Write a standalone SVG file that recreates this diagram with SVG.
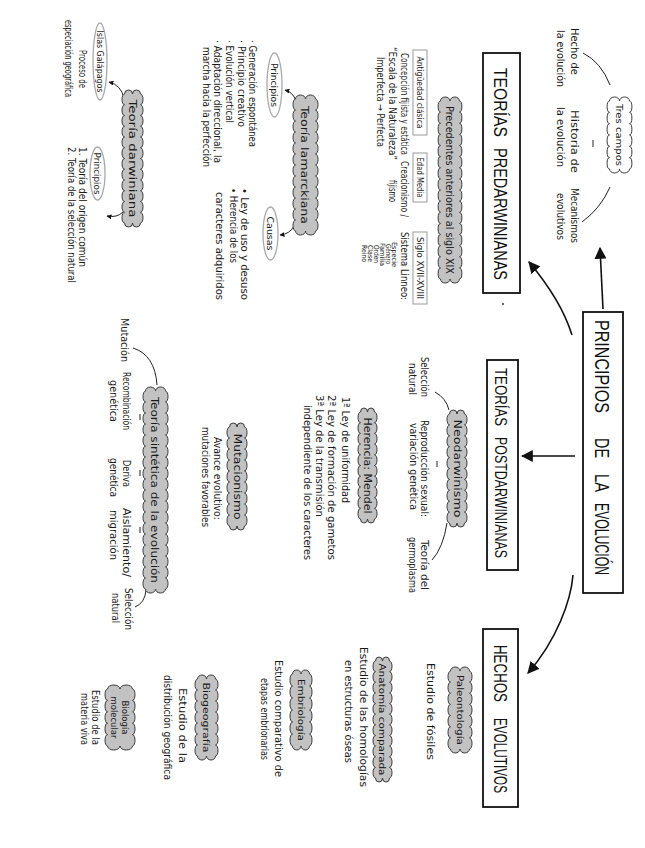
<svg xmlns="http://www.w3.org/2000/svg" width="645" height="848" viewBox="0 0 645 848">
<style>
.t{font-family:"Liberation Sans Narrow","DejaVu Sans Condensed","Liberation Sans",sans-serif;font-size:10px;fill:#1a1a1a}
.s{font-size:9px}
.xs{font-size:7px}
.ttl{font-family:"Liberation Sans","DejaVu Sans",sans-serif;fill:#111}
.m{text-anchor:middle}
.cloud{fill:#c2c2c2;stroke:#3a3a3a;stroke-width:1}
.wcloud{fill:#fff;stroke:#3a3a3a;stroke-width:1}
.box{fill:#fff;stroke:#111;stroke-width:1.8}
.sbox{fill:#fff;stroke:#999;stroke-width:1}
.ell{fill:#fff;stroke:#aaa;stroke-width:1.3}
.ln{fill:none;stroke:#222;stroke-width:1}
.ar{fill:none;stroke:#111;stroke-width:1.6}
</style>
<defs>
<marker id="big" viewBox="0 0 10 10" refX="9" refY="5" markerWidth="12" markerHeight="12" markerUnits="userSpaceOnUse" orient="auto"><path d="M0,0 L10,5 L0,10 z" fill="#111"/></marker>
<marker id="sm" viewBox="0 0 10 10" refX="9" refY="5" markerWidth="5" markerHeight="5" markerUnits="userSpaceOnUse" orient="auto"><path d="M0,0 L10,5 L0,10 z" fill="#111"/></marker>
</defs>
<rect width="645" height="848" fill="#fff"/>
<g transform="translate(645,0) rotate(90)">

<g id="connectors">
<path class="ar" d="M335,73 Q300,84 262,116" marker-end="url(#big)"/>
<path class="ar" d="M309,42 L248,45" marker-end="url(#big)"/>
<path class="ar" d="M456,70 L456,123" marker-end="url(#big)"/>
<path class="ar" d="M575,72 C600,74 640,88 673,117" marker-end="url(#big)"/>
<path class="ln" d="M85,35 Q62,44 53,62"/>
<path class="ln" d="M140,52 L147,52"/>
<path class="ln" d="M187,35 Q208,44 222,63"/>
<path class="ln" d="M101,349 Q92,352 90,360" marker-end="url(#sm)"/>
<path class="ln" d="M226,351 Q234,355 235,365" marker-end="url(#sm)"/>
<path class="ln" d="M98,521 Q85,524 82,536" marker-end="url(#sm)"/>
<path class="ln" d="M212,522 Q218,528 216,538" marker-end="url(#sm)"/>
<path class="ln" d="M410,196 Q398,199 392,210"/>
<path class="ln" d="M461,208 L467,208"/>
<path class="ln" d="M523,198 Q548,202 560,213"/>
<path class="ln" d="M385,488 Q355,490 348,512"/>
<path class="ln" d="M414,505 L420,505"/>
<path class="ln" d="M470,505 L476,505"/>
<path class="ln" d="M527,505 L533,505"/>
<path class="ln" d="M590,499 Q603,500 607,510"/>
</g>

<g id="principios">
<rect class="box" x="312" y="22" width="281" height="40"/>
<text class="ttl" font-size="21" x="320" y="50" textLength="93" lengthAdjust="spacingAndGlyphs">PRINCIPIOS</text>
<text class="ttl" font-size="21" x="438" y="50" textLength="20" lengthAdjust="spacingAndGlyphs">DE</text>
<text class="ttl" font-size="21" x="474" y="50" textLength="18" lengthAdjust="spacingAndGlyphs">LA</text>
<text class="ttl" font-size="21" x="503" y="50" textLength="72" lengthAdjust="spacingAndGlyphs">EVOLUCIÓN</text>
</g>

<g id="tres-campos">
<path class="wcloud" d="M101,15.5 a5.67,2.5 0 0 1 11.33,0 a5.67,2.5 0 0 1 11.33,0 a5.67,2.5 0 0 1 11.33,0 a5.67,2.5 0 0 1 11.33,0 a5.67,2.5 0 0 1 11.33,0 a5.67,2.5 0 0 1 11.33,0 a4,5 0 0 1 0,10 a4,5 0 0 1 0,10 a5.67,2.5 0 0 1 -11.33,0 a5.67,2.5 0 0 1 -11.33,0 a5.67,2.5 0 0 1 -11.33,0 a5.67,2.5 0 0 1 -11.33,0 a5.67,2.5 0 0 1 -11.33,0 a5.67,2.5 0 0 1 -11.33,0 a4,5 0 0 1 0,-10 a4,5 0 0 1 0,-10 z"/>
<text class="t s m" x="135" y="29" textLength="62" lengthAdjust="spacingAndGlyphs">Tres campos</text>
</g>
<g id="campo-hecho">
<text class="t" x="28" y="74" textLength="47" lengthAdjust="spacingAndGlyphs">Hecho de</text>
<text class="t" x="30" y="88" textLength="57" lengthAdjust="spacingAndGlyphs">la evolución</text>
</g>
<g id="campo-historia">
<text class="t" x="110" y="74" textLength="63" lengthAdjust="spacingAndGlyphs">Historia de</text>
<text class="t" x="107" y="88" textLength="60" lengthAdjust="spacingAndGlyphs">la evolución</text>
</g>
<g id="campo-mecanismos">
<text class="t" x="188" y="74" textLength="55" lengthAdjust="spacingAndGlyphs">Mecanismos</text>
<text class="t" x="193" y="88" textLength="47" lengthAdjust="spacingAndGlyphs">evolutivos</text>
</g>

<g id="predarwinianas">
<rect class="box" x="53" y="125" width="240" height="37"/>
<text class="ttl" font-size="19" x="68" y="151" textLength="69" lengthAdjust="spacingAndGlyphs">TEORÍAS</text>
<text class="ttl" font-size="19" x="148" y="151" textLength="132" lengthAdjust="spacingAndGlyphs">PREDARWINIANAS</text>
<circle cx="304" cy="142" r="1" fill="#333"/>
</g>

<g id="precedentes">
<path class="cloud" d="M101,185.5 a5.57,2.5 0 0 1 11.125,0 a5.57,2.5 0 0 1 11.125,0 a5.57,2.5 0 0 1 11.125,0 a5.57,2.5 0 0 1 11.125,0 a5.57,2.5 0 0 1 11.125,0 a5.57,2.5 0 0 1 11.125,0 a5.57,2.5 0 0 1 11.125,0 a5.57,2.5 0 0 1 11.125,0 a5.57,2.5 0 0 1 11.125,0 a5.57,2.5 0 0 1 11.125,0 a5.57,2.5 0 0 1 11.125,0 a5.57,2.5 0 0 1 11.125,0 a5.57,2.5 0 0 1 11.125,0 a5.57,2.5 0 0 1 11.125,0 a5.57,2.5 0 0 1 11.125,0 a5.57,2.5 0 0 1 11.125,0 a4,4.75 0 0 1 0,9.5 a4,4.75 0 0 1 0,9.5 a5.57,2.5 0 0 1 -11.125,0 a5.57,2.5 0 0 1 -11.125,0 a5.57,2.5 0 0 1 -11.125,0 a5.57,2.5 0 0 1 -11.125,0 a5.57,2.5 0 0 1 -11.125,0 a5.57,2.5 0 0 1 -11.125,0 a5.57,2.5 0 0 1 -11.125,0 a5.57,2.5 0 0 1 -11.125,0 a5.57,2.5 0 0 1 -11.125,0 a5.57,2.5 0 0 1 -11.125,0 a5.57,2.5 0 0 1 -11.125,0 a5.57,2.5 0 0 1 -11.125,0 a5.57,2.5 0 0 1 -11.125,0 a5.57,2.5 0 0 1 -11.125,0 a5.57,2.5 0 0 1 -11.125,0 a5.57,2.5 0 0 1 -11.125,0 a4,4.75 0 0 1 0,-9.5 a4,4.75 0 0 1 0,-9.5 z"/>
<text class="t m" x="190" y="199" textLength="168" lengthAdjust="spacingAndGlyphs">Precedentes anteriores al siglo XIX</text>
</g>
<g id="antiguedad">
<rect class="sbox" x="50" y="218" width="85" height="14"/>
<text class="t s m" x="92.5" y="228.5" textLength="72" lengthAdjust="spacingAndGlyphs">Antigüedad clásica</text>
<text class="t" x="53" y="244" textLength="102" lengthAdjust="spacingAndGlyphs">Concepción fijista y estática</text>
<text class="t" x="47" y="256" textLength="113" lengthAdjust="spacingAndGlyphs">“Escala de la Naturaleza”</text>
<text class="t" x="57" y="268" textLength="90" lengthAdjust="spacingAndGlyphs">Imperfecta → Perfecta</text>
</g>
<g id="edad-media">
<rect class="sbox" x="153" y="218" width="49" height="14"/>
<text class="t s m" x="177.5" y="228.5" textLength="40" lengthAdjust="spacingAndGlyphs">Edad Media</text>
<text class="t" x="161" y="244" textLength="56" lengthAdjust="spacingAndGlyphs">Creacionismo /</text>
<text class="t" x="180" y="256" textLength="22" lengthAdjust="spacingAndGlyphs">fijismo</text>
</g>
<g id="siglo-xvii">
<rect class="sbox" x="232" y="218" width="72" height="14"/>
<text class="t s m" x="268" y="228.5" textLength="62" lengthAdjust="spacingAndGlyphs">Siglo XVII-XVIII</text>
<text class="t" x="232" y="244" textLength="68" lengthAdjust="spacingAndGlyphs">Sistema Linneo:</text>
<text class="t xs" x="242" y="253" textLength="25" lengthAdjust="spacingAndGlyphs">Especie</text>
<text class="t xs" x="244" y="259" textLength="20" lengthAdjust="spacingAndGlyphs">Género</text>
<text class="t xs" x="243" y="265" textLength="23" lengthAdjust="spacingAndGlyphs">Familia</text>
<text class="t xs" x="245" y="271" textLength="18" lengthAdjust="spacingAndGlyphs">Orden</text>
<text class="t xs" x="245" y="277" textLength="17" lengthAdjust="spacingAndGlyphs">Clase</text>
<text class="t xs" x="245" y="283" textLength="17" lengthAdjust="spacingAndGlyphs">Reino</text>
</g>

<g id="lamarck">
<path class="cloud" d="M99,329.5 a5.5,2.5 0 0 1 11,0 a5.5,2.5 0 0 1 11,0 a5.5,2.5 0 0 1 11,0 a5.5,2.5 0 0 1 11,0 a5.5,2.5 0 0 1 11,0 a5.5,2.5 0 0 1 11,0 a5.5,2.5 0 0 1 11,0 a5.5,2.5 0 0 1 11,0 a5.5,2.5 0 0 1 11,0 a5.5,2.5 0 0 1 11,0 a5.5,2.5 0 0 1 11,0 a5.5,2.5 0 0 1 11,0 a4,5 0 0 1 0,10 a4,5 0 0 1 0,10 a5.5,2.5 0 0 1 -11,0 a5.5,2.5 0 0 1 -11,0 a5.5,2.5 0 0 1 -11,0 a5.5,2.5 0 0 1 -11,0 a5.5,2.5 0 0 1 -11,0 a5.5,2.5 0 0 1 -11,0 a5.5,2.5 0 0 1 -11,0 a5.5,2.5 0 0 1 -11,0 a5.5,2.5 0 0 1 -11,0 a5.5,2.5 0 0 1 -11,0 a5.5,2.5 0 0 1 -11,0 a5.5,2.5 0 0 1 -11,0 a4,5 0 0 1 0,-10 a4,5 0 0 1 0,-10 z"/>
<text class="t m" x="165" y="344" textLength="118" lengthAdjust="spacingAndGlyphs">Teoría lamarckiana</text>
</g>
<g id="lamarck-principios">
<ellipse class="ell" cx="85" cy="370.5" rx="32" ry="7.5"/>
<text class="t s m" x="85" y="374" textLength="44" lengthAdjust="spacingAndGlyphs">Principios</text>
<text class="t" x="40" y="396" textLength="107" lengthAdjust="spacingAndGlyphs">· Generación espontánea</text>
<text class="t" x="40" y="407" textLength="87" lengthAdjust="spacingAndGlyphs">· Principio creativo</text>
<text class="t" x="40" y="419" textLength="83" lengthAdjust="spacingAndGlyphs">· Evolución vertical</text>
<text class="t" x="40" y="431" textLength="123" lengthAdjust="spacingAndGlyphs">· Adaptación direccional, la</text>
<text class="t" x="47" y="442" textLength="120" lengthAdjust="spacingAndGlyphs">marcha hacia la perfección</text>
</g>
<g id="lamarck-causas">
<ellipse class="ell" cx="233.5" cy="374.5" rx="26.5" ry="7.5"/>
<text class="t s m" x="233.5" y="378" textLength="34" lengthAdjust="spacingAndGlyphs">Causas</text>
<text class="t" x="188" y="404" textLength="112" lengthAdjust="spacingAndGlyphs">• Ley de uso y desuso</text>
<text class="t" x="188" y="415" textLength="75" lengthAdjust="spacingAndGlyphs">• Herencia de los</text>
<text class="t" x="192" y="429" textLength="108" lengthAdjust="spacingAndGlyphs">caracteres adquiridos</text>
</g>

<g id="darwin">
<path class="cloud" d="M94,504.5 a5.375,2.5 0 0 1 10.75,0 a5.375,2.5 0 0 1 10.75,0 a5.375,2.5 0 0 1 10.75,0 a5.375,2.5 0 0 1 10.75,0 a5.375,2.5 0 0 1 10.75,0 a5.375,2.5 0 0 1 10.75,0 a5.375,2.5 0 0 1 10.75,0 a5.375,2.5 0 0 1 10.75,0 a5.375,2.5 0 0 1 10.75,0 a5.375,2.5 0 0 1 10.75,0 a5.375,2.5 0 0 1 10.75,0 a5.375,2.5 0 0 1 10.75,0 a4,4 0 0 1 0,8 a4,4 0 0 1 0,8 a5.375,2.5 0 0 1 -10.75,0 a5.375,2.5 0 0 1 -10.75,0 a5.375,2.5 0 0 1 -10.75,0 a5.375,2.5 0 0 1 -10.75,0 a5.375,2.5 0 0 1 -10.75,0 a5.375,2.5 0 0 1 -10.75,0 a5.375,2.5 0 0 1 -10.75,0 a5.375,2.5 0 0 1 -10.75,0 a5.375,2.5 0 0 1 -10.75,0 a5.375,2.5 0 0 1 -10.75,0 a5.375,2.5 0 0 1 -10.75,0 a5.375,2.5 0 0 1 -10.75,0 a4,4 0 0 1 0,-8 a4,4 0 0 1 0,-8 z"/>
<text class="t m" x="158.5" y="516" textLength="118" lengthAdjust="spacingAndGlyphs">Teoría darwiniana</text>
</g>
<g id="galapagos">
<ellipse class="ell" cx="61.5" cy="545" rx="38.5" ry="7"/>
<text class="t s m" x="61.5" y="548.5" textLength="62" lengthAdjust="spacingAndGlyphs">Islas Galápagos</text>
<text class="t" x="50" y="566" textLength="38" lengthAdjust="spacingAndGlyphs">Proceso de</text>
<text class="t" x="20" y="580" textLength="77" lengthAdjust="spacingAndGlyphs">especiación geográfica</text>
</g>
<g id="darwin-principios">
<ellipse class="ell" cx="173.5" cy="547.5" rx="26.5" ry="7.5"/>
<text class="t s m" x="173.5" y="551" textLength="42" lengthAdjust="spacingAndGlyphs">Principios</text>
<text class="t" x="147" y="566" textLength="120" lengthAdjust="spacingAndGlyphs">1. Teoría del origen común</text>
<text class="t" x="147" y="577" textLength="136" lengthAdjust="spacingAndGlyphs">2. Teoría de la selección natural</text>
</g>

<g id="postdarwinianas">
<rect class="box" x="360" y="127" width="210" height="31"/>
<text class="ttl" font-size="17" x="368" y="150" textLength="58" lengthAdjust="spacingAndGlyphs">TEORÍAS</text>
<text class="ttl" font-size="17" x="437" y="150" textLength="121" lengthAdjust="spacingAndGlyphs">POSTDARWINIANAS</text>
</g>

<g id="neodarwinismo">
<path class="cloud" d="M414,180.5 a5.45,2.5 0 0 1 10.9,0 a5.45,2.5 0 0 1 10.9,0 a5.45,2.5 0 0 1 10.9,0 a5.45,2.5 0 0 1 10.9,0 a5.45,2.5 0 0 1 10.9,0 a5.45,2.5 0 0 1 10.9,0 a5.45,2.5 0 0 1 10.9,0 a5.45,2.5 0 0 1 10.9,0 a5.45,2.5 0 0 1 10.9,0 a5.45,2.5 0 0 1 10.9,0 a4,3.75 0 0 1 0,7.5 a4,3.75 0 0 1 0,7.5 a5.45,2.5 0 0 1 -10.9,0 a5.45,2.5 0 0 1 -10.9,0 a5.45,2.5 0 0 1 -10.9,0 a5.45,2.5 0 0 1 -10.9,0 a5.45,2.5 0 0 1 -10.9,0 a5.45,2.5 0 0 1 -10.9,0 a5.45,2.5 0 0 1 -10.9,0 a5.45,2.5 0 0 1 -10.9,0 a5.45,2.5 0 0 1 -10.9,0 a5.45,2.5 0 0 1 -10.9,0 a4,3.75 0 0 1 0,-7.5 a4,3.75 0 0 1 0,-7.5 z"/>
<text class="t m" x="468.5" y="191.5" textLength="98" lengthAdjust="spacingAndGlyphs">Neodarwinismo</text>
</g>
<g id="neo-seleccion">
<text class="t" x="357" y="224" textLength="40" lengthAdjust="spacingAndGlyphs">Selección</text>
<text class="t" x="363" y="236" textLength="32" lengthAdjust="spacingAndGlyphs">natural</text>
</g>
<g id="neo-reproduccion">
<text class="t" x="420" y="224" textLength="97" lengthAdjust="spacingAndGlyphs">Reproducción sexual:</text>
<text class="t" x="423" y="235" textLength="87" lengthAdjust="spacingAndGlyphs">variación genética</text>
</g>
<g id="neo-germoplasma">
<text class="t" x="540" y="224" textLength="50" lengthAdjust="spacingAndGlyphs">Teoría del</text>
<text class="t" x="537" y="236" textLength="56" lengthAdjust="spacingAndGlyphs">germoplasma</text>
</g>

<g id="mendel">
<path class="cloud" d="M412,270.5 a5.35,2.5 0 0 1 10.7,0 a5.35,2.5 0 0 1 10.7,0 a5.35,2.5 0 0 1 10.7,0 a5.35,2.5 0 0 1 10.7,0 a5.35,2.5 0 0 1 10.7,0 a5.35,2.5 0 0 1 10.7,0 a5.35,2.5 0 0 1 10.7,0 a5.35,2.5 0 0 1 10.7,0 a5.35,2.5 0 0 1 10.7,0 a5.35,2.5 0 0 1 10.7,0 a4,3.5 0 0 1 0,7 a4,3.5 0 0 1 0,7 a5.35,2.5 0 0 1 -10.7,0 a5.35,2.5 0 0 1 -10.7,0 a5.35,2.5 0 0 1 -10.7,0 a5.35,2.5 0 0 1 -10.7,0 a5.35,2.5 0 0 1 -10.7,0 a5.35,2.5 0 0 1 -10.7,0 a5.35,2.5 0 0 1 -10.7,0 a5.35,2.5 0 0 1 -10.7,0 a5.35,2.5 0 0 1 -10.7,0 a5.35,2.5 0 0 1 -10.7,0 a4,3.5 0 0 1 0,-7 a4,3.5 0 0 1 0,-7 z"/>
<text class="t m" x="465.5" y="281" textLength="96" lengthAdjust="spacingAndGlyphs">Herencia: Mendel</text>
<text class="t" x="397" y="303" textLength="106" lengthAdjust="spacingAndGlyphs">1ª Ley de uniformidad</text>
<text class="t" x="395" y="317" textLength="165" lengthAdjust="spacingAndGlyphs">2ª Ley de formación de gametos</text>
<text class="t" x="395" y="329" textLength="122" lengthAdjust="spacingAndGlyphs">3ª Ley de la transmisión</text>
<text class="t" x="405" y="341" textLength="155" lengthAdjust="spacingAndGlyphs">independiente de los caracteres</text>
</g>

<g id="mutacionismo">
<path class="cloud" d="M427,400.5 a5.5,2.5 0 0 1 11,0 a5.5,2.5 0 0 1 11,0 a5.5,2.5 0 0 1 11,0 a5.5,2.5 0 0 1 11,0 a5.5,2.5 0 0 1 11,0 a5.5,2.5 0 0 1 11,0 a5.5,2.5 0 0 1 11,0 a5.5,2.5 0 0 1 11,0 a5.5,2.5 0 0 1 11,0 a4,3.75 0 0 1 0,7.5 a4,3.75 0 0 1 0,7.5 a5.5,2.5 0 0 1 -11,0 a5.5,2.5 0 0 1 -11,0 a5.5,2.5 0 0 1 -11,0 a5.5,2.5 0 0 1 -11,0 a5.5,2.5 0 0 1 -11,0 a5.5,2.5 0 0 1 -11,0 a5.5,2.5 0 0 1 -11,0 a5.5,2.5 0 0 1 -11,0 a5.5,2.5 0 0 1 -11,0 a4,3.75 0 0 1 0,-7.5 a4,3.75 0 0 1 0,-7.5 z"/>
<text class="t m" x="476.5" y="411.5" textLength="86" lengthAdjust="spacingAndGlyphs">Mutacionismo</text>
<text class="t" x="437" y="431" textLength="83" lengthAdjust="spacingAndGlyphs">Avance evolutivo:</text>
<text class="t" x="427" y="443" textLength="100" lengthAdjust="spacingAndGlyphs">mutaciones favorables</text>
</g>

<g id="sintetica">
<path class="cloud" d="M391,479.5 a5.5,2.5 0 0 1 11,0 a5.5,2.5 0 0 1 11,0 a5.5,2.5 0 0 1 11,0 a5.5,2.5 0 0 1 11,0 a5.5,2.5 0 0 1 11,0 a5.5,2.5 0 0 1 11,0 a5.5,2.5 0 0 1 11,0 a5.5,2.5 0 0 1 11,0 a5.5,2.5 0 0 1 11,0 a5.5,2.5 0 0 1 11,0 a5.5,2.5 0 0 1 11,0 a5.5,2.5 0 0 1 11,0 a5.5,2.5 0 0 1 11,0 a5.5,2.5 0 0 1 11,0 a5.5,2.5 0 0 1 11,0 a5.5,2.5 0 0 1 11,0 a5.5,2.5 0 0 1 11,0 a5.5,2.5 0 0 1 11,0 a4,5 0 0 1 0,10 a4,5 0 0 1 0,10 a5.5,2.5 0 0 1 -11,0 a5.5,2.5 0 0 1 -11,0 a5.5,2.5 0 0 1 -11,0 a5.5,2.5 0 0 1 -11,0 a5.5,2.5 0 0 1 -11,0 a5.5,2.5 0 0 1 -11,0 a5.5,2.5 0 0 1 -11,0 a5.5,2.5 0 0 1 -11,0 a5.5,2.5 0 0 1 -11,0 a5.5,2.5 0 0 1 -11,0 a5.5,2.5 0 0 1 -11,0 a5.5,2.5 0 0 1 -11,0 a5.5,2.5 0 0 1 -11,0 a5.5,2.5 0 0 1 -11,0 a5.5,2.5 0 0 1 -11,0 a5.5,2.5 0 0 1 -11,0 a5.5,2.5 0 0 1 -11,0 a5.5,2.5 0 0 1 -11,0 a4,5 0 0 1 0,-10 a4,5 0 0 1 0,-10 z"/>
<text class="t m" x="490" y="494" textLength="186" lengthAdjust="spacingAndGlyphs">Teoría sintética de la evolución</text>
</g>
<g id="sint-mutacion"><text class="t" x="318" y="524" textLength="44" lengthAdjust="spacingAndGlyphs">Mutación</text></g>
<g id="sint-recombinacion">
<text class="t" x="372" y="522" textLength="58" lengthAdjust="spacingAndGlyphs">Recombinación</text>
<text class="t" x="380" y="535" textLength="42" lengthAdjust="spacingAndGlyphs">genética</text>
</g>
<g id="sint-deriva">
<text class="t" x="460" y="522" textLength="27" lengthAdjust="spacingAndGlyphs">Deriva</text>
<text class="t" x="458" y="535" textLength="39" lengthAdjust="spacingAndGlyphs">genética</text>
</g>
<g id="sint-aislamiento">
<text class="t" x="508" y="522" textLength="69" lengthAdjust="spacingAndGlyphs">Aislamiento/</text>
<text class="t" x="510" y="535" textLength="50" lengthAdjust="spacingAndGlyphs">migración</text>
</g>
<g id="sint-seleccion">
<text class="t" x="588" y="520" textLength="42" lengthAdjust="spacingAndGlyphs">Selección</text>
<text class="t" x="593" y="533" textLength="30" lengthAdjust="spacingAndGlyphs">natural</text>
</g>

<g id="hechos">
<rect class="box" x="629" y="127" width="178" height="35"/>
<text class="ttl" font-size="18" x="645" y="151" textLength="57" lengthAdjust="spacingAndGlyphs">HECHOS</text>
<text class="ttl" font-size="18" x="718" y="151" textLength="75" lengthAdjust="spacingAndGlyphs">EVOLUTIVOS</text>
</g>

<g id="paleontologia">
<path class="cloud" d="M671,175.5 a5.57,2.5 0 0 1 11.14,0 a5.57,2.5 0 0 1 11.14,0 a5.57,2.5 0 0 1 11.14,0 a5.57,2.5 0 0 1 11.14,0 a5.57,2.5 0 0 1 11.14,0 a5.57,2.5 0 0 1 11.14,0 a5.57,2.5 0 0 1 11.14,0 a4,4.75 0 0 1 0,9.5 a4,4.75 0 0 1 0,9.5 a5.57,2.5 0 0 1 -11.14,0 a5.57,2.5 0 0 1 -11.14,0 a5.57,2.5 0 0 1 -11.14,0 a5.57,2.5 0 0 1 -11.14,0 a5.57,2.5 0 0 1 -11.14,0 a5.57,2.5 0 0 1 -11.14,0 a5.57,2.5 0 0 1 -11.14,0 a4,4.75 0 0 1 0,-9.5 a4,4.75 0 0 1 0,-9.5 z"/>
<text class="t s m" x="710" y="188.5" textLength="70" lengthAdjust="spacingAndGlyphs">Paleontología</text>
<text class="t" x="663" y="218" textLength="97" lengthAdjust="spacingAndGlyphs">Estudio de fósiles</text>
</g>
<g id="anatomia">
<path class="cloud" d="M661,255.5 a5.32,2.5 0 0 1 10.64,0 a5.32,2.5 0 0 1 10.64,0 a5.32,2.5 0 0 1 10.64,0 a5.32,2.5 0 0 1 10.64,0 a5.32,2.5 0 0 1 10.64,0 a5.32,2.5 0 0 1 10.64,0 a5.32,2.5 0 0 1 10.64,0 a5.32,2.5 0 0 1 10.64,0 a5.32,2.5 0 0 1 10.64,0 a5.32,2.5 0 0 1 10.64,0 a5.32,2.5 0 0 1 10.64,0 a4,3.5 0 0 1 0,7 a4,3.5 0 0 1 0,7 a5.32,2.5 0 0 1 -10.64,0 a5.32,2.5 0 0 1 -10.64,0 a5.32,2.5 0 0 1 -10.64,0 a5.32,2.5 0 0 1 -10.64,0 a5.32,2.5 0 0 1 -10.64,0 a5.32,2.5 0 0 1 -10.64,0 a5.32,2.5 0 0 1 -10.64,0 a5.32,2.5 0 0 1 -10.64,0 a5.32,2.5 0 0 1 -10.64,0 a5.32,2.5 0 0 1 -10.64,0 a5.32,2.5 0 0 1 -10.64,0 a4,3.5 0 0 1 0,-7 a4,3.5 0 0 1 0,-7 z"/>
<text class="t s m" x="719.5" y="266" textLength="112" lengthAdjust="spacingAndGlyphs">Anatomía comparada</text>
<text class="t" x="647" y="285" textLength="140" lengthAdjust="spacingAndGlyphs">Estudio de las homologías</text>
<text class="t" x="660" y="300" textLength="103" lengthAdjust="spacingAndGlyphs">en estructuras óseas</text>
</g>
<g id="embriologia">
<path class="cloud" d="M674,335.5 a6,2.5 0 0 1 12,0 a6,2.5 0 0 1 12,0 a6,2.5 0 0 1 12,0 a6,2.5 0 0 1 12,0 a6,2.5 0 0 1 12,0 a6,2.5 0 0 1 12,0 a4,4.25 0 0 1 0,8.5 a4,4.25 0 0 1 0,8.5 a6,2.5 0 0 1 -12,0 a6,2.5 0 0 1 -12,0 a6,2.5 0 0 1 -12,0 a6,2.5 0 0 1 -12,0 a6,2.5 0 0 1 -12,0 a6,2.5 0 0 1 -12,0 a4,4.25 0 0 1 0,-8.5 a4,4.25 0 0 1 0,-8.5 z"/>
<text class="t s m" x="710" y="347.5" textLength="62" lengthAdjust="spacingAndGlyphs">Embriología</text>
<text class="t" x="660" y="370" textLength="117" lengthAdjust="spacingAndGlyphs">Estudio comparativo de</text>
<text class="t" x="678" y="384" textLength="82" lengthAdjust="spacingAndGlyphs">etapas embrionarias</text>
</g>
<g id="biogeografia">
<path class="cloud" d="M679,429.5 a5.5,2.5 0 0 1 11,0 a5.5,2.5 0 0 1 11,0 a5.5,2.5 0 0 1 11,0 a5.5,2.5 0 0 1 11,0 a5.5,2.5 0 0 1 11,0 a5.5,2.5 0 0 1 11,0 a5.5,2.5 0 0 1 11,0 a4,4.5 0 0 1 0,9 a4,4.5 0 0 1 0,9 a5.5,2.5 0 0 1 -11,0 a5.5,2.5 0 0 1 -11,0 a5.5,2.5 0 0 1 -11,0 a5.5,2.5 0 0 1 -11,0 a5.5,2.5 0 0 1 -11,0 a5.5,2.5 0 0 1 -11,0 a5.5,2.5 0 0 1 -11,0 a4,4.5 0 0 1 0,-9 a4,4.5 0 0 1 0,-9 z"/>
<text class="t s m" x="717.5" y="442" textLength="70" lengthAdjust="spacingAndGlyphs">Biogeografía</text>
<text class="t" x="688" y="466" textLength="75" lengthAdjust="spacingAndGlyphs">Estudio de la</text>
<text class="t" x="675" y="481" textLength="105" lengthAdjust="spacingAndGlyphs">distribución geográfica</text>
</g>
<g id="biologia-molecular">
<path class="cloud" d="M689,512.5 a5.7,2.5 0 0 1 11.4,0 a5.7,2.5 0 0 1 11.4,0 a5.7,2.5 0 0 1 11.4,0 a5.7,2.5 0 0 1 11.4,0 a5.7,2.5 0 0 1 11.4,0 a4,6.25 0 0 1 0,12.5 a4,6.25 0 0 1 0,12.5 a5.7,2.5 0 0 1 -11.4,0 a5.7,2.5 0 0 1 -11.4,0 a5.7,2.5 0 0 1 -11.4,0 a5.7,2.5 0 0 1 -11.4,0 a5.7,2.5 0 0 1 -11.4,0 a4,6.25 0 0 1 0,-12.5 a4,6.25 0 0 1 0,-12.5 z"/>
<text class="t s m" x="717.5" y="523" textLength="34" lengthAdjust="spacingAndGlyphs">Biología</text>
<text class="t s m" x="717.5" y="534" textLength="42" lengthAdjust="spacingAndGlyphs">molecular</text>
<text class="t" x="690" y="553" textLength="55" lengthAdjust="spacingAndGlyphs">Estudio de la</text>
<text class="t" x="693" y="564" textLength="52" lengthAdjust="spacingAndGlyphs">materia viva</text>
</g>

</g>
</svg>
